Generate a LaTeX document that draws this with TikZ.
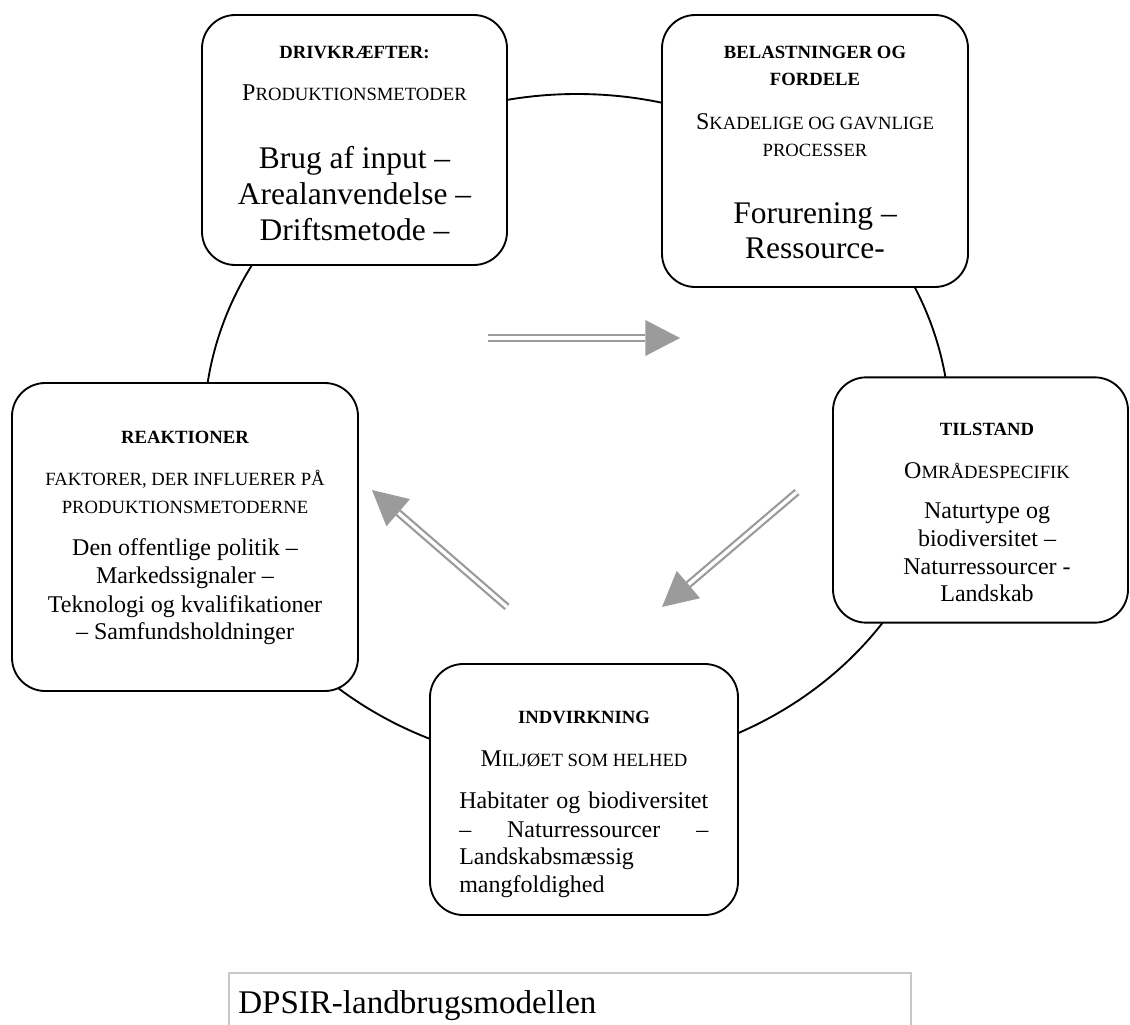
\documentclass[tikz,border=0pt]{standalone}
\usepackage{fontspec}
\setmainfont{Liberation Serif}
\usetikzlibrary{calc}
\definecolor{arrowgray}{RGB}{155,155,155}
\definecolor{capgray}{RGB}{200,200,200}
\newcommand{\fullcapletter}[1]{{\fontsize{18pt}{20pt}\selectfont #1}}
\begin{document}
\begin{tikzpicture}[x=0.75pt,y=-0.75pt,
  stage/.style={draw=black, line width=1.4pt, rounded corners=25pt, fill=white, inner sep=0pt, outer sep=0pt},
  ttl/.style={anchor=base, font=\fontsize{14pt}{16pt}\selectfont\bfseries, inner sep=0pt},
  sub/.style={anchor=base, font=\fontsize{14pt}{16pt}\selectfont, inner sep=0pt},
  big/.style={anchor=base, font=\fontsize{23.6pt}{28pt}\selectfont, inner sep=0pt},
  body/.style={anchor=base, font=\fontsize{18pt}{21pt}\selectfont, inner sep=0pt},
  dbl/.style={draw=arrowgray, line width=1.7pt, double=white, double distance=2.5pt},
  head/.style={fill=arrowgray},
]
\useasboundingbox (0,0) rectangle (1130,1024);

% background cycle
\draw[line width=1.4pt] (577,430) ellipse [x radius=279.75pt, y radius=252pt];

% boxes
\node[stage, minimum width=228.75pt, minimum height=187.5pt] (drv) at (354.5,140) {};
\node[stage, minimum width=229.5pt, minimum height=204pt] (bel) at (815,151) {};
\node[stage, minimum width=221.25pt, minimum height=184pt] (til) at (980.5,500) {};
\node[stage, minimum width=259.5pt, minimum height=231pt] (rea) at (185,537) {};
\node[stage, minimum width=231pt, minimum height=188.25pt] (ind) at (584,789.5) {};

% Drivkraefter
\node[ttl] (d1) at (354.5,58.3) {DRIVKRÆFTER:};
\node[sub] (d2) at (354.5,100) {\fullcapletter{P}RODUKTIONSMETODER};
\node[big] (d3) at (354.5,168) {Brug af input –};
\node[big] (d4) at (354.5,204.5) {Arealanvendelse –};
\node[big] (d5) at (354.5,240) {Driftsmetode –};

% Belastninger
\node[ttl] (b1) at (815,58.3) {BELASTNINGER OG};
\node[ttl] (b2) at (815,85) {FORDELE};
\node[sub] (b3) at (815,129) {\fullcapletter{S}KADELIGE OG GAVNLIGE};
\node[sub] (b4) at (815,156.7) {PROCESSER};
\node[big] (b5) at (815,223) {Forurening –};
\node[big] (b6) at (815,258) {Ressource-};

% Tilstand
\node[ttl] (t1) at (987,435) {TILSTAND};
\node[sub] (t2) at (987,478) {\fullcapletter{O}MRÅDESPECIFIK};
\node[body] (t3) at (987,518.3) {Naturtype og};
\node[body] (t4) at (987,546.7) {biodiversitet –};
\node[body] (t5) at (987,574) {Naturressourcer -};
\node[body] (t6) at (987,601.7) {Landskab};

% Reaktioner
\node[ttl] (r1) at (185,443) {REAKTIONER};
\node[sub] (r2) at (185,485) {FAKTORER, DER INFLUERER PÅ};
\node[sub] (r3) at (185,513) {PRODUKTIONSMETODERNE};
\node[body] (r4) at (185,555) {Den offentlige politik –};
\node[body] (r5) at (185,583) {Markedssignaler –};
\node[body] (r6) at (185,612) {Teknologi og kvalifikationer};
\node[body] (r7) at (185,639) {– Samfundsholdninger};

% Indvirkning
\node[ttl] (i1) at (584,723) {INDVIRKNING};
\node[sub] (i2) at (584,766) {\fullcapletter{M}ILJØET SOM HELHED};
\node[body, anchor=base west] (i3) at (459,808) {\makebox[186.75pt][s]{Habitater og biodiversitet}};
\node[body, anchor=base west] (i4) at (459,837) {\makebox[186.75pt]{–\hfill Naturressourcer\hfill –}};
\node[body, anchor=base west] (i5) at (459,864) {Landskabsmæssig};
\node[body, anchor=base west] (i6) at (459,892) {mangfoldighed};

% arrows
\coordinate (a1s) at (488,338);
\coordinate (a1t) at (680,338);
\coordinate (a1b) at ($(a1t)!26pt!(a1s)$);
\draw[dbl] (a1s) -- (a1b);
\fill[head] (a1t) -- ($(a1b)!13.5pt!90:(a1t)$) -- ($(a1b)!13.5pt!-90:(a1t)$) -- cycle;

\coordinate (a2s) at (797,492);
\coordinate (a2t) at (662,607);
\coordinate (a2b) at ($(a2t)!26pt!(a2s)$);
\draw[dbl] (a2s) -- (a2b);
\fill[head] (a2t) -- ($(a2b)!13.5pt!90:(a2t)$) -- ($(a2b)!13.5pt!-90:(a2t)$) -- cycle;

\coordinate (a3s) at (507,607);
\coordinate (a3t) at (372,490);
\coordinate (a3b) at ($(a3t)!26pt!(a3s)$);
\draw[dbl] (a3s) -- (a3b);
\fill[head] (a3t) -- ($(a3b)!13.5pt!90:(a3t)$) -- ($(a3b)!13.5pt!-90:(a3t)$) -- cycle;

% caption
\node[draw=capgray, line width=1.4pt, anchor=north west, minimum width=511.5pt, minimum height=75pt, inner sep=0pt] (capbox) at (228,972) {};
\node[anchor=base west, font=\fontsize{24.8pt}{28pt}\selectfont, inner sep=0pt] (cap) at (238,1013) {DPSIR-landbrugsmodellen};
\end{tikzpicture}
\end{document}
